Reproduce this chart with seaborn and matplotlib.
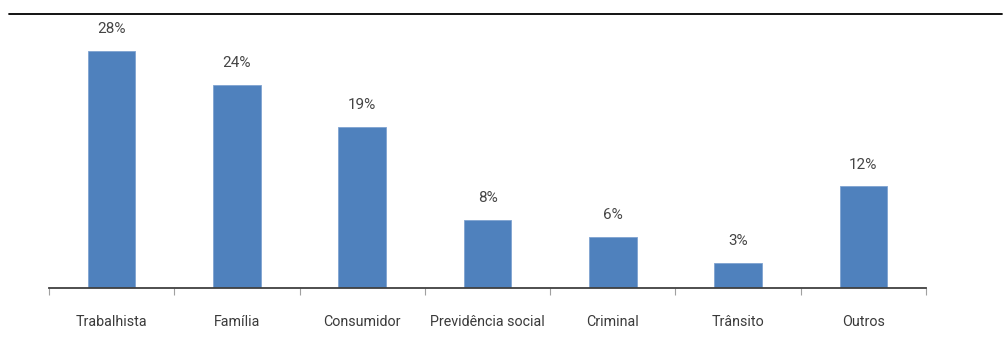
import matplotlib
matplotlib.use("Agg")
import matplotlib.pyplot as plt
import seaborn as sns
import pandas as pd
from matplotlib.lines import Line2D

categories = ["Trabalhista", "Família", "Consumidor", "Previdência social",
              "Criminal", "Trânsito", "Outros"]
values = [28, 24, 19, 8, 6, 3, 12]
value_labels = ["28%", "24%", "19%", "8%", "6%", "3%", "12%"]

sns.set_theme(style="white")
plt.rcParams["font.family"] = ["Roboto", "DejaVu Sans"]

df = pd.DataFrame({"cat": categories, "val": values})

fig = plt.figure(figsize=(10.05, 3.6), dpi=100)
ax = fig.add_axes([49/1005, 0.2, (926-49)/1005, 0.705])

sns.barplot(data=df, x="cat", y="val", color="#4F81BD", saturation=1,
            width=0.38, edgecolor="#7FA3D1", linewidth=0.6, ax=ax)

ax.set_xlim(-0.5, len(categories) - 0.5)
ax.set_ylim(0, 30)
ax.set_xlabel("")
ax.set_ylabel("")
ax.set_yticks([])
for s in ["top", "left", "right"]:
    ax.spines[s].set_visible(False)
ax.spines["bottom"].set_color("#404040")
ax.spines["bottom"].set_linewidth(1.3)

ax.set_xticks(range(len(categories)))
ax.set_xticklabels(categories, fontsize=10.3, color="#3A3A3A")
ax.set_xticks([i - 0.5 for i in range(len(categories) + 1)], minor=True)
ax.tick_params(axis="x", which="major", length=0, pad=19.5)
ax.tick_params(axis="x", which="minor", length=5, width=0.8, color="#A0A0A0",
               direction="out", bottom=True)

for i, (v, lab) in enumerate(zip(values, value_labels)):
    ax.annotate(lab, xy=(i, v), xytext=(0, 15.8), textcoords="offset points",
                ha="center", va="center", fontsize=11, color="#454545")

fig.add_artist(Line2D([9/1005, 1002/1005], [1 - 14/360, 1 - 14/360],
                      transform=fig.transFigure, color="black", linewidth=1.3))

fig.savefig("out.png", dpi=100)
